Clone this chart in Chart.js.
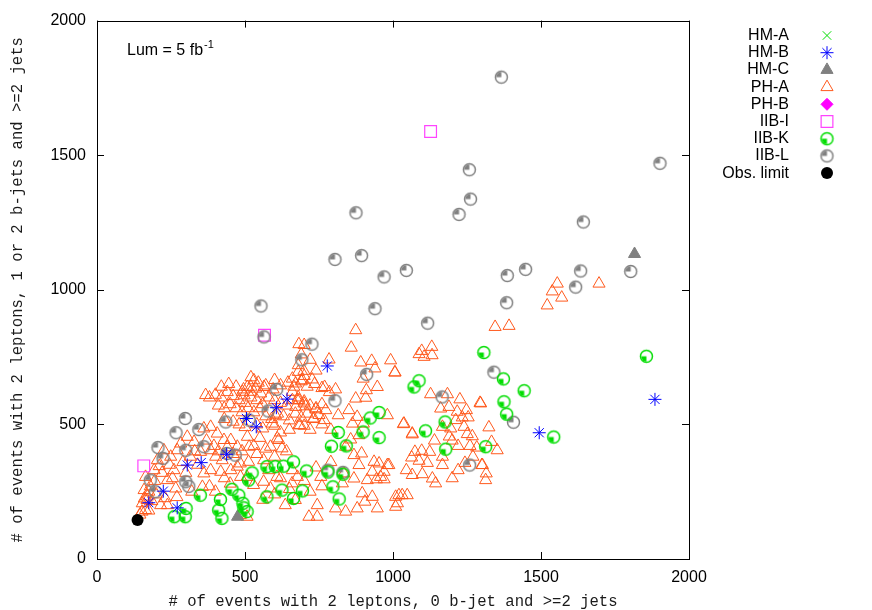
<!DOCTYPE html>
<html>
<head>
<meta charset="utf-8">
<script src="https://cdn.jsdelivr.net/npm/chart.js@4/dist/chart.umd.min.js"></script>
<style>
html,body{margin:0;padding:0;background:#fff;}
#wrap{position:relative;width:872px;height:610px;}
</style>
</head>
<body>
<div id="wrap"><canvas id="c" width="872" height="610"></canvas></div>
<script>
// ---------------- DATA ----------------
const axisMin = 0, axisMax = 2000;
const tickValues = [0, 500, 1000, 1500, 2000];
const xTitle = '# of events with 2 leptons, 0 b-jet and >=2 jets';
const yTitle = '# of events with 2 leptons, 1 or 2 b-jets and >=2 jets';
const seriesNames = ['HM-A','HM-B','HM-C','PH-A','PH-B','IIB-I','IIB-K','IIB-L','Obs. limit'];

const hmA = [];
const hmB = [[175,209],[224,252],[271,190],[305,349],[352,358],[438,389],[505,522],[538,491],[606,562],[642,594],[778,717],[1494,469],[1885,593]];
const hmC = [[475,157],[1816,1133]];
const phA = [
[145,165],[152,176],[153,207],[164,182],[169,219],[159,256],[164,305],[170,232],[175,180],[185,215],[193,330],[204,367],[215,200],[226,404],[238,293],[238,200],[249,380],[260,330],[266,262],[271,404],[283,429],[305,454],[328,435],[350,398],[356,268],[361,318],[384,330],[384,404],[401,380],[418,324],[423,367],[452,330],[474,343],[485,305],[452,442],[474,417],[514,417],[508,454],[429,442],[406,466],[361,485],[384,491],[367,609],[380,600],[180,270],[195,290],[210,345],[220,320],[245,350],[255,300],[270,230],[290,360],[300,320],[315,380],[330,400],[340,350],[370,440],[395,420],[410,400],[440,415],[460,390],[490,400],[175,250],[200,240],[230,226],[320,250],[380,270],[400,250],[450,280],[430,300],[160,225],
[400,610],[420,600],[440,620],[460,605],[480,590],[500,580],[520,600],[540,590],[560,575],[580,600],[600,590],[620,580],[640,570],[660,590],[680,600],[700,585],[720,570],[740,560],[760,575],
[410,570],[430,560],[450,575],[470,560],[490,545],[510,560],[530,545],[550,560],[570,530],[590,520],[610,540],[630,530],[650,515],[670,540],[690,525],[710,540],[730,520],[750,535],
[420,640],[445,650],[470,640],[495,630],[520,640],[545,655],[570,645],[595,630],[620,645],[645,655],[665,640],[690,660],[710,640],[735,650],[760,635],[785,620],
[430,520],[460,510],[480,500],[500,490],[540,500],[560,485],[600,495],[620,470],[650,480],[700,495],[720,480],[760,500],[790,480],
[520,675],[600,665],[700,680],[740,700],[680,720],[720,740],[700,795],[690,760],
[530,664],[508,639],[536,633],[564,639],[491,621],[519,621],[553,615],[497,608],[671,652],[660,621],[682,590],[705,567],[671,565],[603,534],[592,503],[682,497],[609,448],[680,695],[699,699],[660,670],[682,798],[784,741],[739,556],[773,553],[815,534],[733,522],[767,516],[686,497],[727,667],[769,639],[806,630],[694,664],[677,590],[699,578],
[484,163],[507,157],[529,275],[507,305],[563,287],[586,262],[608,305],[636,200],[670,219],[659,281],[614,442],[625,411],[586,417],[563,367],[512,361],[484,355],[540,390],[600,380],[640,400],[660,330],[677,305],[756,305],[829,281],[834,318],[744,200],[716,157],[744,157],[806,188],[840,176],[868,299],[720,250],[760,270],[700,290],[740,340],[790,360],[560,220],[600,240],[650,260],[620,300],[580,330],[530,420],[550,450],[570,410],
[874,850],[859,785],[891,730],[928,736],[992,738],[939,708],[1007,693],[899,670],[947,639],[910,627],[874,596],[908,599],[851,553],[879,528],[863,503],[900,503],[981,534],[885,460],[857,444],[840,417],[894,392],[868,386],[885,349],[936,361],[930,324],[970,324],[986,349],[913,293],[944,296],[970,296],[896,244],[930,231],[879,188],[947,188],[905,213],[1037,503],[1065,466],[953,355],[981,349],[958,305],[1020,237],[1048,237],[1015,207],[1009,194],[1009,231],[1031,237],
[1097,773],[1131,788],[1105,751],[1132,757],[1088,761],[1006,693],[1127,612],[1184,612],[1161,559],[1189,565],[1226,593],[1294,580],[1217,547],[1248,553],[1234,526],[1254,526],[1212,516],[1167,491],[1195,485],[1240,491],[1251,464],[1268,456],[1324,489],[1035,501],[1065,463],[1333,435],[1283,414],[1352,404],[1074,398],[1097,402],[1124,398],[1063,377],[1088,365],[1116,357],[1167,380],[1167,349],[1243,357],[1300,349],[1045,330],[1065,312],[1099,315],[1133,299],[1144,281],[1315,318],[1313,293],[1302,349],[1296,578],[1345,862],[1392,866],[1200,440],[1220,420],[1260,420],[1140,440],[1190,455],[1270,380],[1220,330],[1200,300],
[1555,1023],[1538,994],[1570,971],[1521,942],[1696,1023]
];
const phB = [];
const iibI = [[158,346],[566,831],[1127,1588]];
const iibK = [[261,157],[298,157],[301,188],[349,237],[417,221],[411,182],[422,151],[456,259],[479,237],[493,207],[496,190],[507,176],[524,320],[512,293],[574,231],[625,256],[574,343],[602,343],[630,345],[664,361],[664,225],[694,253],[708,327],[780,323],[831,315],[797,268],[818,223],[792,419],[842,420],[815,470],[899,472],[923,524],[953,544],[953,451],[1088,662],[1071,639],[1176,509],[1110,476],[1178,408],[1307,767],[1373,669],[1443,625],[1375,584],[1384,538],[1543,453],[1313,417],[1856,753]];
const iibL = [[1366,1790],[1902,1470],[1258,1446],[1262,1337],[1223,1280],[875,1286],[1643,1252],[804,1113],[894,1127],[970,1048],[1045,1072],[1386,1053],[1448,1076],[1634,1070],[1803,1068],[1617,1010],[1384,952],[939,930],[554,940],[1117,876],[564,825],[726,798],[692,740],[911,686],[804,588],[1166,602],[1341,694],[1407,508],[1259,349],[607,630],[578,550],[514,516],[435,509],[298,522],[267,469],[206,414],[223,374],[180,293],[197,250],[300,287],[310,270],[344,481],[361,417],[300,404],[439,392],[467,386],[780,330],[831,322]];
const obsLimit = [[137,145]];

// ---------------- MARKERS ----------------
function pieMarker(color, a0, a1) {
  const c = document.createElement('canvas');
  c.width = 17; c.height = 17;
  const g = c.getContext('2d');
  g.strokeStyle = color; g.lineWidth = 1.5;
  g.beginPath(); g.arc(8.5, 8.5, 6.0, 0, Math.PI * 2); g.stroke();
  g.fillStyle = color;
  g.beginPath(); g.moveTo(8.5, 8.5); g.arc(8.5, 8.5, 5.2, a0, a1); g.closePath(); g.fill();
  return c;
}
const greenPie = pieMarker('#00dd00', Math.PI / 2, Math.PI);
const grayPie = pieMarker('#808080', Math.PI, Math.PI * 1.5);

const toXY = arr => arr.map(p => ({x: p[0], y: p[1]}));

const datasets = [
  {label: seriesNames[8], data: toXY(obsLimit), pointStyle: 'circle', radius: 6, backgroundColor: '#000', borderColor: '#000', borderWidth: 0, order: 1},
  {label: seriesNames[1], data: toXY(hmB), pointStyle: 'star', radius: 6.5, backgroundColor: '#0000ff', borderColor: '#0000ff', borderWidth: 1, order: 2},
  {label: seriesNames[6], data: toXY(iibK), pointStyle: greenPie, radius: 6, backgroundColor: '#00dd00', borderColor: '#00dd00', order: 3},
  {label: seriesNames[7], data: toXY(iibL), pointStyle: grayPie, radius: 6, backgroundColor: '#808080', borderColor: '#808080', order: 4},
  {label: seriesNames[5], data: toXY(iibI), pointStyle: 'rect', radius: 8.3, backgroundColor: 'rgba(0,0,0,0)', borderColor: '#ff44ff', borderWidth: 1.2, order: 5},
  {label: seriesNames[4], data: toXY(phB), pointStyle: 'rectRot', radius: 6, backgroundColor: '#ff00ff', borderColor: '#ff00ff', borderWidth: 1, order: 6},
  {label: seriesNames[2], data: toXY(hmC), pointStyle: 'triangle', radius: 7, backgroundColor: '#808080', borderColor: '#808080', borderWidth: 1, order: 7},
  {label: seriesNames[3], data: toXY(phA), pointStyle: 'triangle', radius: 7, backgroundColor: 'rgba(0,0,0,0)', borderColor: '#ff5a1e', borderWidth: 1, order: 8},
  {label: seriesNames[0], data: toXY(hmA), pointStyle: 'crossRot', radius: 6, backgroundColor: '#00dd00', borderColor: '#00dd00', borderWidth: 1, order: 9}
];
datasets.forEach(d => { d.pointHoverRadius = d.radius; d.clip = false; });

const legendOrder = [0,1,2,3,4,5,6,7,8];
function findDs(name) { return datasets.find(d => d.label === name); }

const boxPlugin = {
  id: 'box',
  beforeDatasetsDraw(chart) {
    const ctx = chart.ctx, a = chart.chartArea;
    const xs = chart.scales.x, ys = chart.scales.y;
    ctx.save();
    ctx.strokeStyle = '#000'; ctx.lineWidth = 1;
    ctx.strokeRect(Math.round(a.left) + 0.5, Math.round(a.top) + 0.5, Math.round(a.right - a.left), Math.round(a.bottom - a.top));
    ctx.beginPath();
    tickValues.forEach(v => {
      const px = Math.round(xs.getPixelForValue(v)) + 0.5;
      ctx.moveTo(px, a.bottom); ctx.lineTo(px, a.bottom - 7);
      ctx.moveTo(px, a.top); ctx.lineTo(px, a.top + 7);
      const py = Math.round(ys.getPixelForValue(v)) + 0.5;
      ctx.moveTo(a.left, py); ctx.lineTo(a.left + 7, py);
      ctx.moveTo(a.right, py); ctx.lineTo(a.right - 7, py);
    });
    ctx.stroke();
    ctx.fillStyle = '#000';
    ctx.font = '16px "Liberation Sans"';
    ctx.textBaseline = 'alphabetic'; ctx.textAlign = 'left';
    const t = 'Lum = 5 fb';
    ctx.fillText(t, 127, 55);
    const w = ctx.measureText(t).width;
    ctx.font = '11px "Liberation Sans"';
    ctx.fillText('-1', 127 + w + 1, 48);
    ctx.fillStyle = '#1a1a1a';
    ctx.font = '15.6px "Liberation Mono"';
    ctx.textAlign = 'center'; ctx.textBaseline = 'middle';
    ctx.fillText(xTitle, (a.left + a.right) / 2, 602);
    ctx.translate(18, (a.top + a.bottom) / 2);
    ctx.rotate(-Math.PI / 2);
    ctx.fillText(yTitle, 0, 0);
    ctx.restore();
  },
  afterDraw(chart) {
    const ctx = chart.ctx;
    ctx.save();
    ctx.font = '16px "Liberation Sans"';
    ctx.textAlign = 'right'; ctx.textBaseline = 'middle';
    legendOrder.forEach((idx, i) => {
      const name = seriesNames[idx];
      const y = 35.5 + i * 17.2;
      ctx.fillStyle = '#000';
      ctx.fillText(name, 789, y);
      const d = findDs(name);
      ctx.fillStyle = d.backgroundColor;
      ctx.strokeStyle = d.borderColor;
      ctx.lineWidth = d.borderWidth || 1;
      Chart.helpers.drawPoint(ctx, {pointStyle: d.pointStyle, rotation: 0, radius: d.radius, borderWidth: d.borderWidth || 0}, 827, y);
    });
    ctx.restore();
  }
};

new Chart(document.getElementById('c'), {
  type: 'scatter',
  data: {datasets},
  options: {
    responsive: false,
    animation: false,
    events: [],
    layout: {padding: {top: 20, right: 183, left: 0, bottom: 0}},
    plugins: {legend: {display: false}, tooltip: {enabled: false}},
    scales: {
      x: {
        type: 'linear', min: axisMin, max: axisMax,
        afterBuildTicks: s => { s.ticks = tickValues.map(v => ({value: v})); },
        afterFit: s => { s.height = 51; },
        grid: {display: false, drawTicks: false},
        border: {display: false},
        ticks: {padding: 9, color: '#000', font: {family: 'Liberation Sans', size: 16}, maxRotation: 0, callback: v => String(v)}
      },
      y: {
        type: 'linear', min: axisMin, max: axisMax,
        afterBuildTicks: s => { s.ticks = tickValues.map(v => ({value: v})); },
        afterFit: s => { s.width = 97; },
        grid: {display: false, drawTicks: false},
        border: {display: false},
        ticks: {padding: 11, color: '#000', font: {family: 'Liberation Sans', size: 16}, callback: v => String(v)}
      }
    }
  },
  plugins: [boxPlugin]
});
</script>
</body>
</html>
